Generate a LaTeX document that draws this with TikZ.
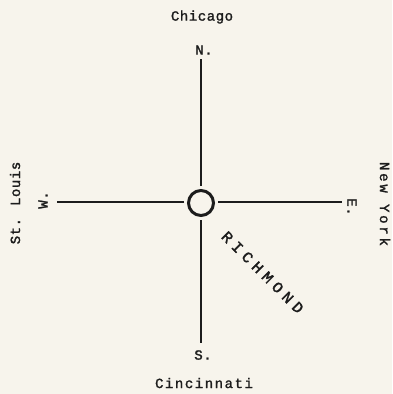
\documentclass[tikz,border=0pt]{standalone}
\usepackage{fontspec}
\usetikzlibrary{decorations.text}
\newfontfamily\lblfont{Liberation Mono}[FakeBold=1.6,LetterSpace=4]
\newfontfamily\richfont{Liberation Mono}[FakeBold=1.8]
\definecolor{paper}{HTML}{F7F4EC}
\definecolor{ink}{HTML}{1C1C1C}
\begin{document}
\begin{tikzpicture}[x=1pt,y=-1pt,
  city/.style={font=\lblfont\fontsize{14}{16}\selectfont, text=ink, inner sep=0pt},
  dirlbl/.style={font=\lblfont\fontsize{14}{16}\selectfont, text=ink, inner sep=0pt},
  road/.style={draw=ink, line width=2pt}]
\fill[paper] (0,0) rectangle (392,394);
\useasboundingbox (0,0) rectangle (392,394);
% hub
\node[circle, draw=ink, line width=3pt, minimum size=25pt, inner sep=0pt] (hub) at (201,203) {};
% road ends
\coordinate (nend) at (201,59);
\coordinate (send) at (201,343);
\coordinate (wend) at (57,202);
\coordinate (eend) at (342,202);
\draw[road, shorten <=3pt] (hub.north) -- (nend);
\draw[road, shorten <=3pt] (hub.south) -- (send);
\draw[road, shorten <=3pt] (hub.west |- wend) -- (wend);
\draw[road, shorten <=3pt] (hub.east |- eend) -- (eend);
% direction labels
\node[dirlbl] (nl) at (204,50) {N.};
\node[dirlbl] (sl) at (203,355) {S.};
\node[dirlbl, rotate=90] (wl) at (43,200) {W.};
\node[dirlbl, rotate=-90] (el) at (352,207) {E.};
% cities
\node[city] (chi) at (202,17) {Chicago};
\node[city] (cin) at (204,383) {\addfontfeature{LetterSpace=11}Cincinnati};
\node[city, rotate=90] (stl) at (15,203) {St. Louis};
\node[city, rotate=-90] (nyc) at (385,204) {\addfontfeature{LetterSpace=20}New York};
% Richmond
\coordinate (rs) at (220.5,237.5);
\coordinate (re) at (297.5,314.5);
\path[decorate, decoration={text along path, text align=fit to path,
  text={|\richfont\fontsize{15.5}{17}\selectfont\color{ink}|RICHMOND}}] (rs) -- (re);
\end{tikzpicture}
\end{document}
